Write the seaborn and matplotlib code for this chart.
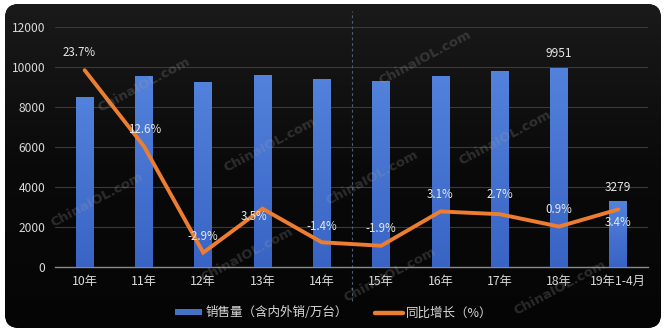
import numpy as np
import pandas as pd
import matplotlib
matplotlib.use("Agg")
import matplotlib.pyplot as plt
import seaborn as sns
from matplotlib.patches import FancyBboxPatch, Patch
from matplotlib.lines import Line2D
from matplotlib.transforms import IdentityTransform
from matplotlib.colors import LinearSegmentedColormap

# ---- data ----
categories = ['10年', '11年', '12年', '13年', '14年', '15年', '16年', '17年', '18年', '19年1-4月']
sales = [8500, 9550, 9250, 9580, 9420, 9280, 9560, 9800, 9951, 3279]
growth = [23.7, 12.6, -2.9, 3.5, -1.4, -1.9, 3.1, 2.7, 0.9, 3.4]
growth_labels = ['23.7%', '12.6%', '-2.9%', '3.5%', '-1.4%', '-1.9%', '3.1%', '2.7%', '0.9%', '3.4%']
sales_labeled = ['18年', '19年1-4月']
legend_labels = ['销售量（含内外销/万台）', '同比增长（%）']
y_ticks = [0, 2000, 4000, 6000, 8000, 10000, 12000]
watermark = 'ChinaIOL.com'

# label offsets in pixels (style only)
lab_dx = [-6, 1, 0, -8, 0, 0, 0, 0, 0, 0]
lab_dy = [18, 17, 16, -8, 16, 17, 17, 20, 17, -13]

df = pd.DataFrame({'cat': categories, 'sales': sales, 'growth': growth,
                   'pos': np.arange(len(categories))})

sns.set_theme(style='dark')
plt.rcParams['font.family'] = ['Noto Sans CJK SC', 'DejaVu Sans']
plt.rcParams['axes.unicode_minus'] = False

W, H = 667, 333
fig = plt.figure(figsize=(W / 100, H / 100), dpi=100)
fig.patch.set_facecolor('white')

# rounded black background
bg = FancyBboxPatch((5, 5), 656, 324, boxstyle='round,pad=0,rounding_size=14',
                    transform=IdentityTransform(), facecolor='#0b0b0b',
                    edgecolor='none', zorder=-10)
fig.add_artist(bg)
glow = fig.add_axes([5 / W, 5 / H, 656 / W, 324 / H], zorder=-5)
grad = np.linspace(0, 1, 256).reshape(-1, 1)
cmap_bg = LinearSegmentedColormap.from_list('bg', ['#1a1a1a', '#0a0a0a', '#050505'])
glow.imshow(grad, aspect='auto', cmap=cmap_bg, extent=[0, 1, 0, 1])
glow.set_axis_off()
glow.images[0].set_clip_path(FancyBboxPatch((5, 5), 656, 324, boxstyle='round,pad=0,rounding_size=14',
                                            transform=IdentityTransform()))

ax = fig.add_axes([55 / W, 66 / H, 593 / W, 240 / H], zorder=1)
ax.set_facecolor('none')

sns.barplot(data=df, x='cat', y='sales', ax=ax, color='#4472C4', width=0.3,
            saturation=1, edgecolor='none', linewidth=0, zorder=3)

# gradient fill for bars
cmap_bar = LinearSegmentedColormap.from_list('bar', ['#3964C4', '#5282DC'])
bars = list(ax.patches)
for p in bars:
    x0, y0 = p.get_x(), p.get_y()
    w, h = p.get_width(), p.get_height()
    im = ax.imshow(np.linspace(0, 1, 100).reshape(-1, 1)[::-1], aspect='auto',
                   cmap=cmap_bar, extent=[x0, x0 + w, y0, y0 + h], zorder=4)
    im.set_clip_path(p)

ax.set_xlim(-0.5, len(categories) - 0.5)
ax.set_ylim(0, 12000)
ax.set_yticks(y_ticks)
ax.set_yticklabels([str(v) for v in y_ticks])
ax.set_xlabel('')
ax.set_ylabel('')
ax.grid(axis='y', color='#3a3a3a', lw=0.8, zorder=0)
ax.grid(axis='x', visible=False)
for s in ['top', 'right', 'left']:
    ax.spines[s].set_visible(False)
ax.spines['bottom'].set_color('#8a8a8a')
ax.spines['bottom'].set_linewidth(1.0)
ax.tick_params(axis='both', length=0, colors='#d9d9d9')
ax.tick_params(axis='y', labelsize=8.6, pad=7)
ax.tick_params(axis='x', labelsize=8.8, pad=6)

# dashed separator
ax.axvline(4.5, ymin=-0.14, ymax=1.065, color='#4d5c78', lw=0.8,
           ls=(0, (2.5, 2.5)), clip_on=False, zorder=2)

# bar value labels
for cat, val, pos in zip(df['cat'], df['sales'], df['pos']):
    if cat in sales_labeled:
        ax.annotate(f'{val}', (pos, val), xytext=(0, 14 * 0.72), textcoords='offset points',
                    ha='center', va='center', color='#e6e6e6', fontsize=8.6, zorder=6)

# growth line on secondary axis
ax2 = ax.twinx()
ax2.set_zorder(2)
ax2.set_facecolor('none')
sns.lineplot(data=df, x='pos', y='growth', ax=ax2, color='#ED7D31', lw=2.8,
             solid_joinstyle='miter', zorder=5)
ax2.set_ylim(-5, 30)
ax2.set_xlim(-0.5, len(categories) - 0.5)
ax2.set_axis_off()
for pos, g, lab, dx, dy in zip(df['pos'], df['growth'], growth_labels, lab_dx, lab_dy):
    ax2.annotate(lab, (pos, g), xytext=(dx * 0.72, dy * 0.72), textcoords='offset points',
                 ha='center', va='center', color='#e8e8e8', fontsize=8.3, zorder=7)

# legend
handles = [Patch(facecolor='#4472C4', edgecolor='none'),
           Line2D([0], [0], color='#ED7D31', lw=3.2)]
fig.legend(handles, legend_labels, loc='center', bbox_to_anchor=(0.5, 1 - 313 / H),
           ncol=2, frameon=False, fontsize=9, labelcolor='#d9d9d9',
           handlelength=2.2, handleheight=0.45, handletextpad=0.25, columnspacing=2.2)

# watermarks
wm_pos = [(144, 85), (97, 200), (270, 145), (247, 255), (425, 58),
          (372, 178), (505, 138), (390, 275), (560, 288)]
for (x, y) in wm_pos:
    fig.text(x / W, 1 - y / H, watermark, rotation=28, ha='center', va='center',
             fontsize=9.5, fontweight='bold', family='DejaVu Sans',
             color='#a0a0a0', alpha=0.24, zorder=20)

fig.savefig('out.png', dpi=100, facecolor='white')
